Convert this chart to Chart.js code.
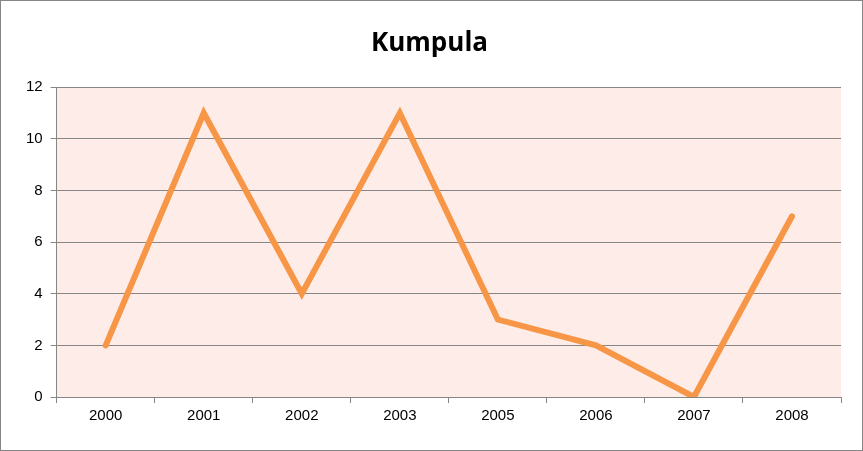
<!DOCTYPE html>
<html>
<head>
<meta charset="utf-8">
<script src="https://cdn.jsdelivr.net/npm/chart.js@4"></script>
<style>
  html, body { margin: 0; padding: 0; background: #fff; }
  #wrap { width: 861px; height: 449px; border: 1px solid #868686; }
</style>
</head>
<body>
<div id="wrap"><canvas id="myChart" width="861" height="449"></canvas></div>
<script>
let years = ['2000', '2001', '2002', '2003', '2005', '2006', '2007', '2008'];
let values = [2, 11, 4, 11, 3, 2, 0, 7];
let yTicks = { min: 0, max: 12, step: 2 };

// paint the plot area pink like the original
const plotBg = {
    id: 'plotBg',
    beforeDraw(chart) {
        const a = chart.chartArea;
        const ctx = chart.ctx;
        ctx.save();
        ctx.fillStyle = '#FDECE7';
        ctx.fillRect(a.left, a.top, a.right - a.left, a.bottom - a.top);
        ctx.restore();
    }
};

new Chart("myChart", {
    type: "line",
    data: {
        labels: years,
        datasets: [{
            data: values,
            borderColor: '#F79646',
            borderWidth: 6,
            pointRadius: 0,
            tension: 0,
            borderCapStyle: 'round',
            borderJoinStyle: 'miter'
        }]
    },
    options: {
        responsive: false,
        animation: false,
        layout: { padding: { left: 17, right: 21, top: 0, bottom: 21 } },
        scales: {
            x: {
                offset: true,
                grid: { offset: true, drawOnChartArea: false, color: '#868686', tickLength: 6 },
                border: { color: '#868686' },
                ticks: { color: '#000', font: { family: 'Liberation Sans', size: 15 }, padding: 4 }
            },
            y: {
                min: yTicks.min,
                max: yTicks.max,
                ticks: { stepSize: yTicks.step, color: '#000', font: { family: 'Liberation Sans', size: 15 }, padding: 8 },
                grid: { color: '#868686', tickLength: 6 },
                border: { color: '#868686' }
            }
        },
        plugins: {
            legend: { display: false },
            tooltip: { enabled: false },
            title: {
                display: true,
                text: 'Kumpula',
                color: '#000',
                font: { family: 'Open Sans', size: 26, weight: 'bold' },
                padding: { top: 27, bottom: 28 }
            }
        }
    },
    plugins: [plotBg]
});
</script>
</body>
</html>
